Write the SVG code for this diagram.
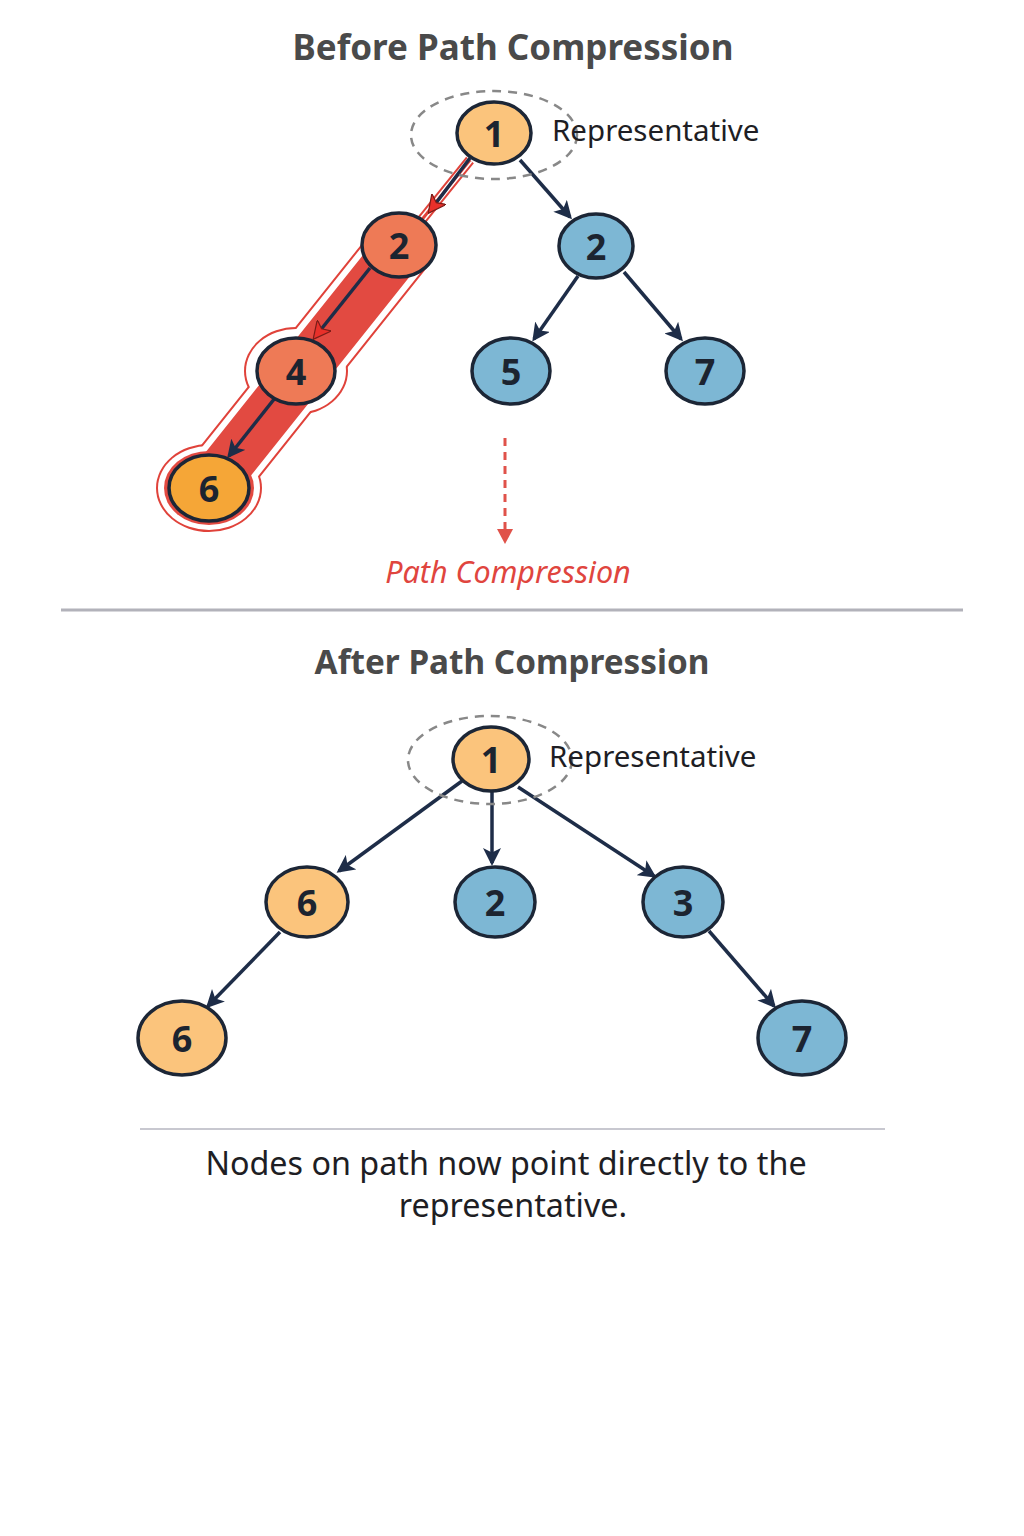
<svg xmlns="http://www.w3.org/2000/svg" width="1024" height="1536" viewBox="0 0 1024 1536">
<defs>
<style>
.title{font-family:"Noto Sans","Open Sans",sans-serif;font-weight:700;font-size:35px;fill:#4a4a4a;text-anchor:middle}
.lbl{font-family:"Noto Sans","Open Sans",sans-serif;font-size:29.5px;fill:#1e1e24}
.num{font-family:"Noto Sans","Open Sans",sans-serif;font-weight:700;font-size:36px;fill:#1c2430;text-anchor:middle;dominant-baseline:central}
.nd{stroke:#1c2636;stroke-width:3.5}
.o1{fill:#fbc47c}.rd{fill:#ee7a56}.o2{fill:#f5a637}.bl{fill:#7db7d4}
.e{stroke:#1e2d48;stroke-width:3.5;fill:none}
.dash{fill:none;stroke:#888;stroke-width:2.5;stroke-dasharray:9 7}
.note{font-family:"Noto Sans","Open Sans",sans-serif;font-size:32.3px;fill:#1e1e24;text-anchor:middle}
</style>
<marker id="ar" viewBox="0 0 12 12" refX="10" refY="6" markerWidth="18" markerHeight="18" markerUnits="userSpaceOnUse" orient="auto"><path d="M0,0 L12,6 L0,12 L3,6 Z" fill="#1e2d48"/></marker>
<marker id="arr" viewBox="0 0 12 12" refX="10" refY="6" markerWidth="18" markerHeight="18" markerUnits="userSpaceOnUse" orient="auto"><path d="M0,0 L12,6 L0,12 L3,6 Z" fill="#e8302a" stroke="#7a1c18" stroke-width="0.8"/></marker>
</defs>
<rect width="1024" height="1536" fill="#fff"/>

<text class="title" x="513" y="60">Before Path Compression</text>

<g id="highlight">
<path d="M470,160 L420,222" stroke="#e0423a" stroke-width="10" fill="none"/>
<path d="M470,160 L420,222" stroke="#fff" stroke-width="6" fill="none"/>
<path d="M470,160 L420,222" stroke="#e0423a" stroke-width="3" fill="none"/>
<line x1="399" y1="250" x2="209" y2="488" stroke="#e0423a" stroke-width="66" stroke-linecap="round"/>
<ellipse cx="296" cy="371" rx="52" ry="44" fill="#e0423a"/>
<ellipse cx="209" cy="488" rx="53" ry="44" fill="#e0423a"/>
<line x1="399" y1="250" x2="209" y2="488" stroke="#fff" stroke-width="62" stroke-linecap="round"/>
<ellipse cx="296" cy="371" rx="50" ry="42" fill="#fff"/>
<ellipse cx="209" cy="488" rx="51" ry="42" fill="#fff"/>
<line x1="399" y1="250" x2="209" y2="488" stroke="#e24a41" stroke-width="50" stroke-linecap="round"/>
<ellipse cx="209" cy="488" rx="45" ry="37" fill="#e24a41"/>
</g>

<g id="connectors">
<line class="e" x1="470" y1="158" x2="430" y2="211" marker-end="url(#arr)"/>
<line class="e" x1="520" y1="160" x2="570" y2="217" marker-end="url(#ar)"/>
<line class="e" x1="578" y1="276" x2="534" y2="339" marker-end="url(#ar)"/>
<line class="e" x1="624" y1="272" x2="681" y2="339" marker-end="url(#ar)"/>
<line class="e" x1="370" y1="268" x2="315" y2="337" marker-end="url(#arr)"/>
<line class="e" x1="275" y1="398" x2="229" y2="456" marker-end="url(#ar)"/>
<line x1="505" y1="438" x2="505" y2="530" stroke="#e0524a" stroke-width="3" stroke-dasharray="8 6"/>
<path d="M497,529 L513,529 L505,544 Z" fill="#e0524a"/>

<line class="e" x1="462" y1="781" x2="339" y2="871" marker-end="url(#ar)"/>
<line class="e" x1="492" y1="792" x2="492" y2="863" marker-end="url(#ar)"/>
<line class="e" x1="518" y1="787" x2="654" y2="876" marker-end="url(#ar)"/>
<line class="e" x1="280" y1="932" x2="208" y2="1006" marker-end="url(#ar)"/>
<line class="e" x1="709" y1="931" x2="774" y2="1006" marker-end="url(#ar)"/>
</g>

<g id="n1">
<ellipse class="dash" cx="494" cy="135" rx="83" ry="44"/>
<ellipse class="nd o1" cx="494" cy="133" rx="37" ry="31"/>
<text class="num" x="494" y="133">1</text>
<text class="lbl" x="552" y="141">Representative</text>
</g>
<g id="n2r"><ellipse class="nd rd" cx="399" cy="245" rx="37" ry="32"/><text class="num" x="399" y="245">2</text></g>
<g id="n2b"><ellipse class="nd bl" cx="596" cy="246" rx="37" ry="32"/><text class="num" x="596" y="246">2</text></g>
<g id="n4"><ellipse class="nd rd" cx="296" cy="371" rx="39" ry="33"/><text class="num" x="296" y="371">4</text></g>
<g id="n5"><ellipse class="nd bl" cx="511" cy="371" rx="39" ry="33"/><text class="num" x="511" y="371">5</text></g>
<g id="n7"><ellipse class="nd bl" cx="705" cy="371" rx="39" ry="33"/><text class="num" x="705" y="371">7</text></g>
<g id="n6"><ellipse class="nd o2" cx="209" cy="488" rx="40" ry="33"/><text class="num" x="209" y="488">6</text></g>

<text x="508" y="583" font-family="'Noto Sans','Open Sans',sans-serif" font-style="italic" font-size="30.5" fill="#e0453e" text-anchor="middle">Path Compression</text>

<line x1="61" y1="610" x2="963" y2="610" stroke="#b2b2ba" stroke-width="3"/>

<text class="title" x="512" y="674" style="font-size:33.3px">After Path Compression</text>

<g id="m1">
<ellipse class="dash" cx="490" cy="760" rx="82" ry="44"/>
<ellipse class="nd o1" cx="491" cy="759" rx="38" ry="32"/>
<text class="num" x="491" y="759">1</text>
<text class="lbl" x="549" y="767">Representative</text>
</g>
<g id="m6"><ellipse class="nd o1" cx="307" cy="902" rx="41" ry="35"/><text class="num" x="307" y="902">6</text></g>
<g id="m2"><ellipse class="nd bl" cx="495" cy="902" rx="40" ry="35"/><text class="num" x="495" y="902">2</text></g>
<g id="m3"><ellipse class="nd bl" cx="683" cy="902" rx="40" ry="35"/><text class="num" x="683" y="902">3</text></g>
<g id="m6b"><ellipse class="nd o1" cx="182" cy="1038" rx="44" ry="37"/><text class="num" x="182" y="1038">6</text></g>
<g id="m7"><ellipse class="nd bl" cx="802" cy="1038" rx="44" ry="37"/><text class="num" x="802" y="1038">7</text></g>

<line x1="140" y1="1129" x2="885" y2="1129" stroke="#c8c8d0" stroke-width="2"/>
<text class="note" x="506" y="1175">Nodes on path now point directly to the</text>
<text class="note" x="513" y="1217">representative.</text>
</svg>
